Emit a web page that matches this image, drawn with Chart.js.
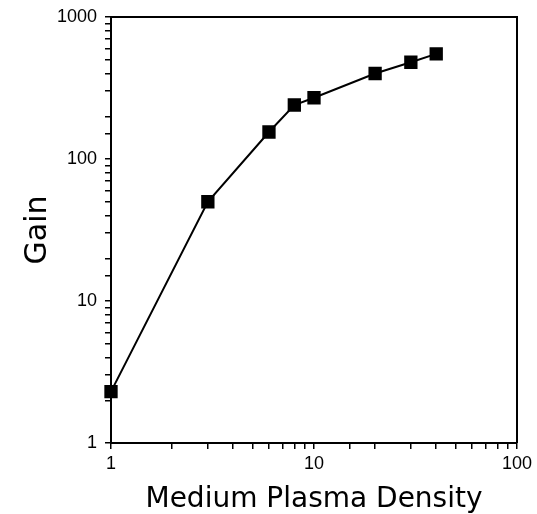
<!DOCTYPE html>
<html>
<head>
<meta charset="utf-8">
<script src="https://cdn.jsdelivr.net/npm/chart.js@4/dist/chart.umd.min.js"></script>
<style>
  html, body { margin: 0; padding: 0; background: #fff; }
  #wrap { width: 537px; height: 514px; }
</style>
</head>
<body>
<div id="wrap"><canvas id="myChart" width="537" height="514"></canvas></div>
<script>
// values
const density = [1, 3, 6, 8, 10, 20, 30, 40];
const gain = [2.3, 50, 155, 240, 270, 400, 480, 550];
const xTickLabels = [1, 10, 100];
const yTickLabels = [1, 10, 100, 1000];

const points = density.map((d, i) => ({ x: d, y: gain[i] }));

// close the box on top and right
const frame = {
	id: 'frame',
	afterDraw(chart) {
		const a = chart.chartArea;
		const c = chart.ctx;
		c.save();
		c.strokeStyle = '#000';
		c.lineWidth = 2;
		c.beginPath();
		c.moveTo(a.left, a.top);
		c.lineTo(a.right, a.top);
		c.lineTo(a.right, a.bottom);
		c.stroke();
		c.restore();
	}
};

const ctx = document.getElementById('myChart').getContext('2d');
const myChart = new Chart(ctx, {
	type: 'line',
	data: {
		datasets: [{
			data: points,
			borderColor: '#000',
			backgroundColor: '#000',
			borderWidth: 2,
			tension: 0,
			clip: false,
			pointStyle: 'rect',
			pointRadius: 8,
			pointHoverRadius: 8,
		}]
	},
	plugins: [frame],
	options: {
		responsive: false,
		animation: false,
		events: [],
		layout: { padding: { left: 0, right: 20, top: 16, bottom: 0 } },
		plugins: {
			legend: { display: false },
			tooltip: { enabled: false }
		},
		scales: {
			x: {
				type: 'logarithmic',
				min: 1,
				max: 100,
				afterFit(s) { s.height = 71; },
				border: { color: '#000', width: 2 },
				grid: { drawOnChartArea: false, drawTicks: true, tickLength: 6, color: '#000', lineWidth: 1.5 },
				ticks: {
					autoSkip: false,
					maxRotation: 0,
					color: '#000',
					padding: 4,
					font: { family: 'Liberation Sans', size: 18 },
					callback: (v) => xTickLabels.includes(v) ? String(v) : ''
				},
				title: {
					display: true,
					text: 'Medium Plasma Density',
					color: '#000',
					padding: { top: 4, bottom: 0 },
					font: { family: 'DejaVu Sans', size: 28, lineHeight: 1.0 }
				}
			},
			y: {
				type: 'logarithmic',
				min: 1,
				max: 1000,
				afterFit(s) { s.width = 111; },
				border: { color: '#000', width: 2 },
				grid: { drawOnChartArea: false, drawTicks: true, tickLength: 6, color: '#000', lineWidth: 1.5 },
				ticks: {
					autoSkip: false,
					color: '#000',
					padding: 8,
					font: { family: 'Liberation Sans', size: 18, lineHeight: 1.0 },
					callback: (v) => yTickLabels.includes(v) ? String(v) : ''
				},
				title: {
					display: true,
					text: 'Gain',
					color: '#000',
					padding: { top: 20, bottom: 0 },
					font: { family: 'DejaVu Sans', size: 30 }
				}
			}
		}
	},
});
</script>
</body>
</html>
